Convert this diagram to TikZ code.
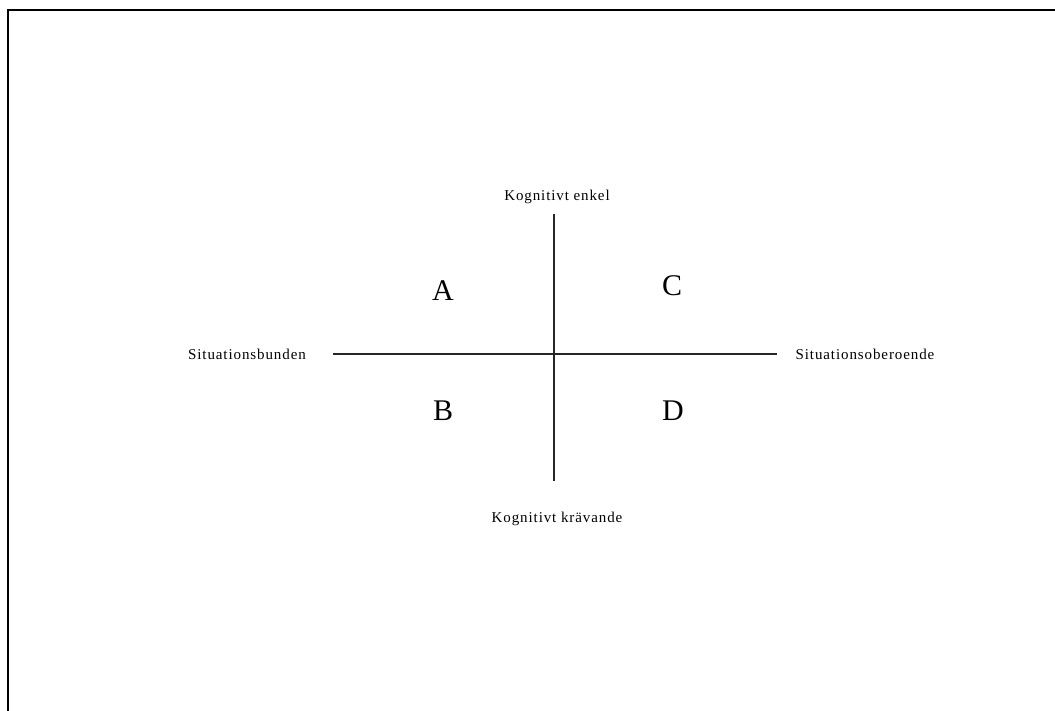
\documentclass[tikz,border=0pt]{standalone}
\usepackage{fontspec}
\setmainfont{Liberation Serif}
\newfontfamily\axisfont[LetterSpace=6]{Liberation Serif}
\usetikzlibrary{positioning}
\tikzset{
  axlabel/.style = {inner sep=0pt, font=\axisfont\fontsize{15}{18}\selectfont},
  quad/.style    = {inner sep=0pt, font=\fontsize{30}{36}\selectfont},
  axis/.style    = {draw=black!85, line width=1.1pt},
  frame/.style   = {draw=black, line width=2pt},
}

\begin{document}
\begin{tikzpicture}[x=1pt,y=-1pt]
  \useasboundingbox (0,0) rectangle (1055,711);
  \draw[frame] (1056,10) -- (8,10) -- (8,712);
  % axes
  \coordinate (west) at (333,354);
  \coordinate (east) at (777,354);
  \coordinate (north) at (554,214);
  \coordinate (south) at (554,481);
  \draw[axis] (west) -- (east);
  \draw[axis] (north) -- (south);
  % axis labels
  \node[axlabel] (top) at (557,197) {Kognitivt enkel};
  \node[axlabel] (bottom) at (557,519) {Kognitivt krävande};
  \node[axlabel] (left) at (247,354) {Situationsbunden};
  \node[axlabel] (right) at (865,354) {Situationsoberoende};
  % quadrants
  \node[quad] (qa) at (443,291) {A};
  \node[quad] (qc) at (672,286) {C};
  \node[quad] (qb) at (443,411) {B};
  \node[quad] (qd) at (673,411) {D};
\end{tikzpicture}
\end{document}
